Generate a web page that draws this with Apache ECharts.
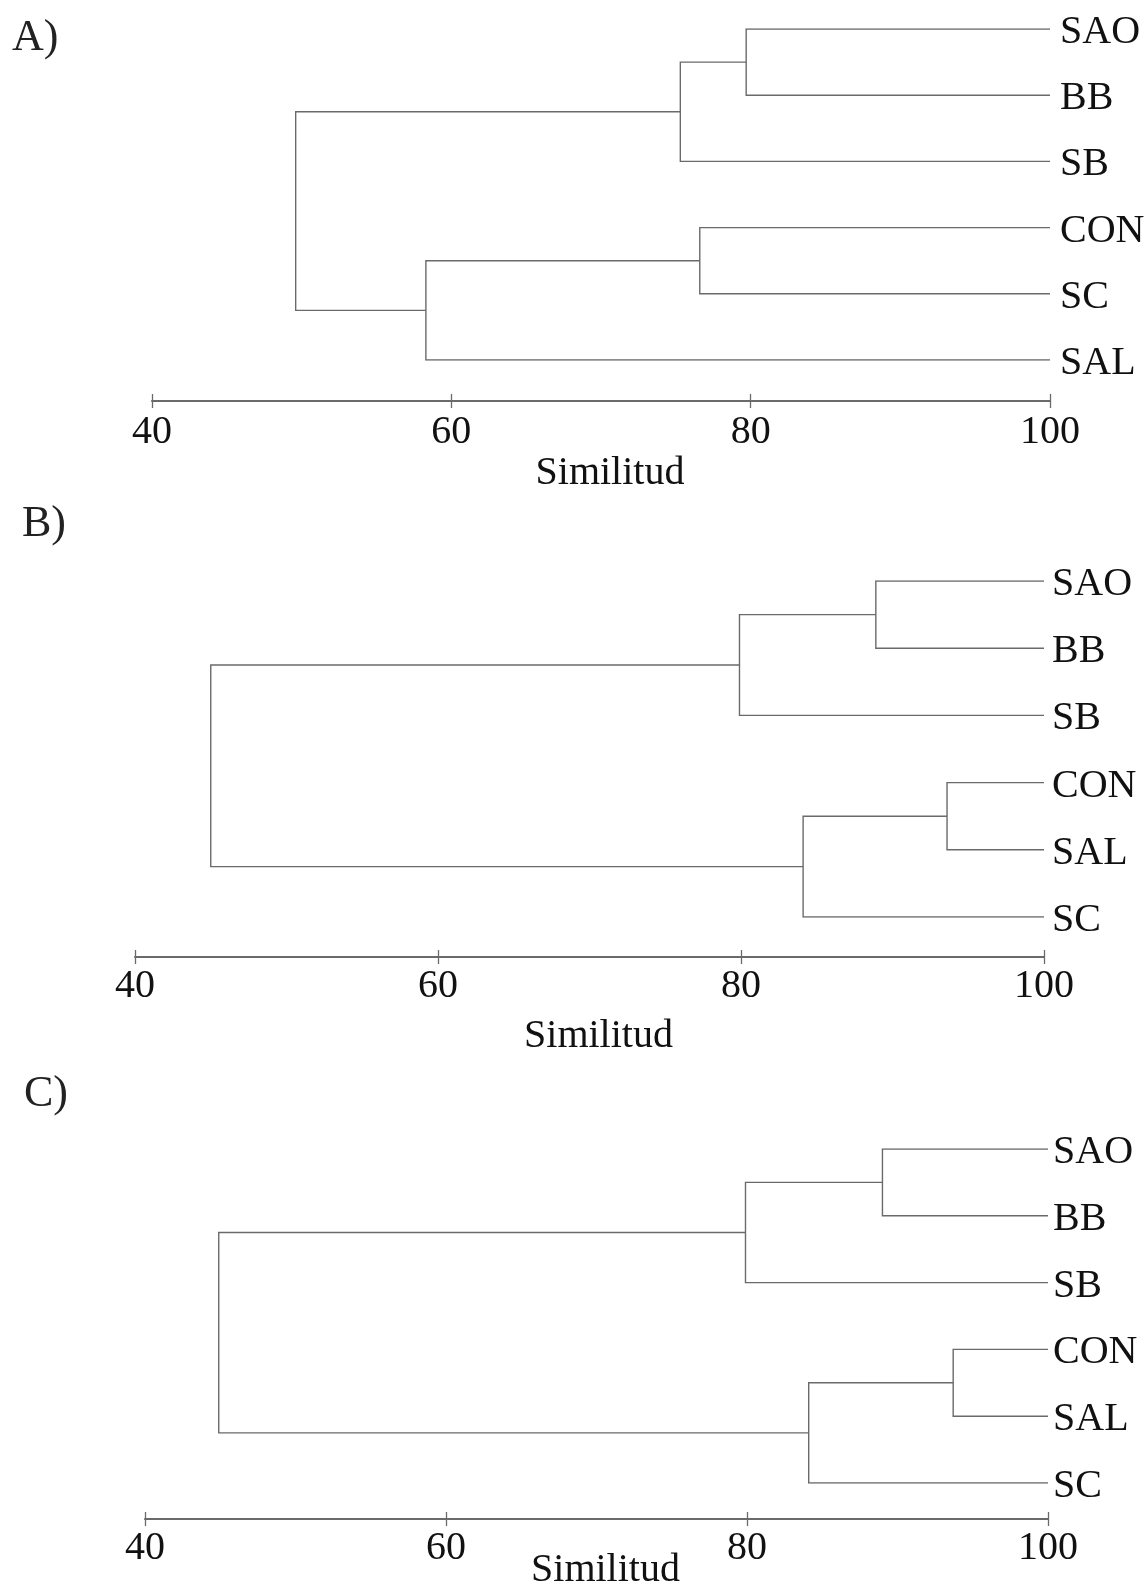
<!DOCTYPE html>
<html>
<head>
<meta charset="utf-8">
<script src="https://cdn.jsdelivr.net/npm/echarts@6/dist/echarts.min.js"></script>
<style>
html,body{margin:0;padding:0;background:#fff;}
#chart{width:1148px;height:1591px;}
</style>
</head>
<body>
<div id="chart"></div>
<script>
// ---- data ----
const tickValues = [40, 60, 80, 100];
const axisTitle = 'Similitud';
const panelLetters = ['A)', 'B)', 'C)'];

const leavesA = ['SAO', 'BB', 'SB', 'CON', 'SC', 'SAL'];
// [childA, childB, similarity]; indices >= leaves.length refer to earlier merges
const mergesA = [[0, 1, 79.7], [6, 2, 75.3], [3, 4, 76.6], [8, 5, 58.3], [7, 9, 49.6]];

const leavesB = ['SAO', 'BB', 'SB', 'CON', 'SAL', 'SC'];
const mergesB = [[0, 1, 88.9], [6, 2, 79.9], [3, 4, 93.6], [8, 5, 84.1], [7, 9, 45.0]];

const leavesC = ['SAO', 'BB', 'SB', 'CON', 'SAL', 'SC'];
const mergesC = [[0, 1, 89.0], [6, 2, 79.9], [3, 4, 93.7], [8, 5, 84.1], [7, 9, 44.9]];

// ---- build ----
const FONT = '"Liberation Serif", "Times New Roman", serif';
const LINE = '#6a6a6a';
const TEXT = '#111';

function dendroPaths(leaves, merges, leafValue) {
  const nodes = leaves.map((_, i) => ({ x: leafValue, y: i }));
  const paths = [];
  merges.forEach(([a, b, h]) => {
    const na = nodes[a], nb = nodes[b];
    paths.push({ coords: [[na.x, na.y], [h, na.y], [h, nb.y], [nb.x, nb.y]] });
    nodes.push({ x: h, y: (na.y + nb.y) / 2 });
  });
  return paths;
}

const panels = [
  { leaves: leavesA, merges: mergesA, left: 152, width: 898, top: 29, height: 331, offset: 41, labelMargin: 11, nameGap: 52, leafMargin: 10, lx: 12, ly: 38 },
  { leaves: leavesB, merges: mergesB, left: 135, width: 909, top: 581, height: 336, offset: 40, labelMargin: 9, nameGap: 59, leafMargin: 8, lx: 22, ly: 524 },
  { leaves: leavesC, merges: mergesC, left: 145, width: 903, top: 1149, height: 334, offset: 36, labelMargin: 9, nameGap: 31, leafMargin: 5, lx: 24, ly: 1094 }
];

const xMin = tickValues[0], xMax = tickValues[tickValues.length - 1];
const xStep = tickValues[1] - tickValues[0];

const option = {
  animation: false,
  backgroundColor: '#fff',
  grid: [], xAxis: [], yAxis: [], series: [], graphic: []
};

panels.forEach((p, i) => {
  option.grid.push({
    left: p.left, top: p.top, width: p.width, height: p.height,
    containLabel: false, outerBoundsMode: 'none'
  });
  // main x axis (ticks downward, labels, name)
  option.xAxis.push({
    type: 'value', gridIndex: i, min: xMin, max: xMax, interval: xStep,
    position: 'bottom', offset: p.offset,
    axisLine: { show: true, onZero: false, lineStyle: { color: LINE, width: 2 } },
    axisTick: { show: true, length: 7, lineStyle: { color: LINE, width: 1.3 } },
    splitLine: { show: false },
    axisLabel: { show: true, margin: p.labelMargin, color: TEXT, fontFamily: FONT, fontSize: 40 },
    name: axisTitle, nameLocation: 'middle', nameGap: p.nameGap, nameMoveOverlap: false,
    nameTextStyle: { color: TEXT, fontFamily: FONT, fontSize: 40, padding: [0, 0, 0, 18] }
  });
  // companion axis: upward ticks
  option.xAxis.push({
    type: 'value', gridIndex: i, min: xMin, max: xMax, interval: xStep,
    position: 'bottom', offset: p.offset,
    axisLine: { show: false, onZero: false },
    axisTick: { show: true, inside: true, length: 7, lineStyle: { color: LINE, width: 1.3 } },
    splitLine: { show: false },
    axisLabel: { show: false }
  });
  const leaves = p.leaves;
  option.yAxis.push({
    type: 'value', gridIndex: i, min: 0, max: leaves.length - 1, interval: 1,
    inverse: true, position: 'right',
    axisLine: { show: false, onZero: false }, axisTick: { show: false }, splitLine: { show: false },
    axisLabel: {
      show: true, margin: p.leafMargin,
      formatter: v => (leaves[v] ? '{l|' + leaves[v] + '}' : ''),
      rich: { l: { color: TEXT, fontFamily: FONT, fontSize: 40, padding: [7, 0, 0, 0] } }
    }
  });
  option.series.push({
    type: 'lines', coordinateSystem: 'cartesian2d', polyline: true,
    xAxisIndex: i * 2, yAxisIndex: i,
    lineStyle: { color: LINE, width: 1.4, opacity: 1 },
    silent: true,
    data: dendroPaths(p.leaves, p.merges, xMax)
  });
  option.graphic.push({
    type: 'text', left: p.lx, top: p.ly - 22,
    style: { text: panelLetters[i], fill: '#222', font: '44px ' + FONT }
  });
});

const chart = echarts.init(document.getElementById('chart'), null, { renderer: 'canvas' });
chart.setOption(option);
</script>
</body>
</html>
